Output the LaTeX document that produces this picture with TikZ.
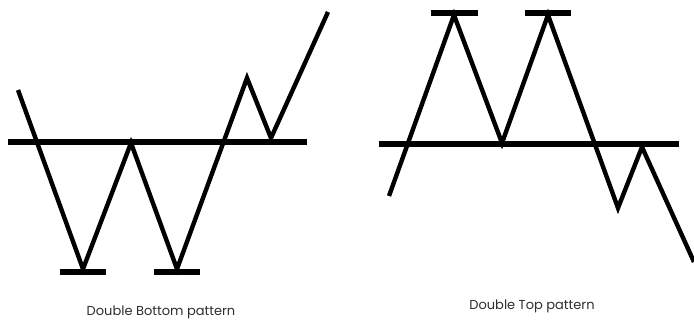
\documentclass[tikz,border=0pt]{standalone}
\usepackage{fontspec}
\setmainfont{Poppins}
\usepackage{xcolor}
\usepackage{tikz}
\definecolor{captioncolor}{HTML}{2E2E2E}

\begin{document}
\begin{tikzpicture}[
    x=1pt, y=-1pt,
    price/.style={line width=4.4pt, line join=miter},
    level/.style={line width=6.4pt},
    caption/.style={font=\fontsize{13}{15}\selectfont, text=captioncolor},
  ]
  \useasboundingbox (0,0) rectangle (694,321);
  % double bottom
  \coordinate (b0) at (18,90);
  \coordinate (b1) at (83,269);
  \coordinate (b2) at (131,143);
  \coordinate (b3) at (177,269);
  \coordinate (b4) at (247,78);
  \coordinate (b5) at (271,138);
  \coordinate (b6) at (328,12);
  \draw[level] (8,142) coordinate (nl1) -- (307,142) coordinate (nl2);
  \draw[level] (60,272) -- (106,272);
  \draw[level] (154,272) -- (200,272);
  \draw[price] (b0) -- (b1) -- (b2) -- (b3) -- (b4) -- (b5) -- (b6);
  \node[caption] (bcap) at (161,312) {Double Bottom pattern};
  % double top
  \coordinate (t0) at (389,196);
  \coordinate (t1) at (454,15);
  \coordinate (t2) at (502,143);
  \coordinate (t3) at (548,15);
  \coordinate (t4) at (618,208);
  \coordinate (t5) at (642,147);
  \coordinate (t6) at (694,262);
  \draw[level] (379,144) coordinate (nl3) -- (679,144) coordinate (nl4);
  \draw[level] (431,13) -- (478,13);
  \draw[level] (525,13) -- (571,13);
  \draw[price] (t0) -- (t1) -- (t2) -- (t3) -- (t4) -- (t5) -- (t6);
  \node[caption] (tcap) at (532,306) {Double Top pattern};
\end{tikzpicture}
\end{document}
